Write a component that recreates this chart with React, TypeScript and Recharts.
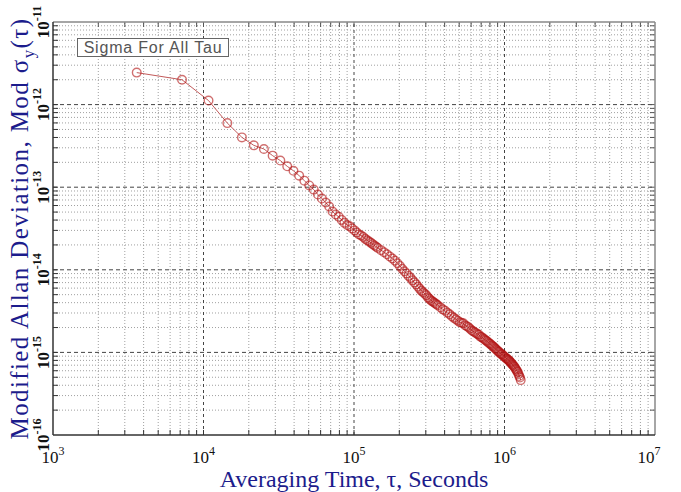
import React from "react";
import { LineChart, Line, XAxis, YAxis, ReferenceLine, Label } from "recharts";

// averaging times (s) and Mod sigma_y values
const tauSeconds = [
  3600, 7200, 10800, 14400, 18000, 21600, 25200, 28800, 32400, 36000,
  39600, 43200, 46800, 50400, 54000, 57600, 61200, 64800, 68400, 72000,
  75600, 79200, 82800, 86400, 90000, 93600, 97200, 100800, 104400, 108000,
  111600, 115200, 118800, 122400, 126000, 129600, 133200, 136800, 140400, 144000,
  151200, 158400, 165600, 172800, 180000, 187200, 194400, 201600, 208800, 216000,
  223200, 230400, 237600, 244800, 252000, 259200, 266400, 273600, 280800, 288000,
  295200, 302400, 309600, 316800, 324000, 331200, 338400, 345600, 352800, 360000,
  374400, 388800, 403200, 417600, 432000, 446400, 460800, 475200, 489600, 504000,
  518400, 532800, 547200, 561600, 576000, 590400, 604800, 619200, 633600, 648000,
  662400, 676800, 691200, 705600, 720000, 734400, 748800, 763200, 777600, 792000,
  806400, 820800, 835200, 849600, 864000, 878400, 892800, 907200, 921600, 936000,
  950400, 964800, 979200, 993600, 1008000, 1022400, 1036800, 1051200, 1065600, 1080000,
  1094400, 1108800, 1123200, 1137600, 1152000, 1166400, 1180800, 1195200, 1209600, 1224000,
  1238400, 1252800, 1267200, 1281600,
];

const modSigma = [
  2.44e-12, 2.0e-12, 1.12e-12, 5.97e-13, 4.01e-13, 3.21e-13, 2.9e-13, 2.41e-13, 2.1e-13, 1.79e-13,
  1.58e-13, 1.38e-13, 1.2e-13, 1.05e-13, 9.35e-14, 8.15e-14, 7.28e-14, 6.52e-14, 5.83e-14, 5.07e-14,
  4.67e-14, 4.38e-14, 4.02e-14, 3.7e-14, 3.48e-14, 3.36e-14, 3.17e-14, 3.0e-14, 2.83e-14, 2.68e-14,
  2.6e-14, 2.5e-14, 2.37e-14, 2.28e-14, 2.2e-14, 2.12e-14, 2.04e-14, 1.97e-14, 1.9e-14, 1.84e-14,
  1.73e-14, 1.63e-14, 1.54e-14, 1.45e-14, 1.37e-14, 1.29e-14, 1.2e-14, 1.115e-14, 1.03e-14, 9.6e-15,
  9.05e-15, 8.44e-15, 7.98e-15, 7.45e-15, 7.04e-15, 6.66e-15, 6.22e-15, 5.88e-15, 5.56e-15, 5.34e-15,
  5.12e-15, 4.91e-15, 4.64e-15, 4.45e-15, 4.27e-15, 4.15e-15, 4.04e-15, 3.93e-15, 3.82e-15, 3.72e-15,
  3.52e-15, 3.32e-15, 3.19e-15, 3.02e-15, 2.89e-15, 2.74e-15, 2.62e-15, 2.52e-15, 2.42e-15, 2.32e-15,
  2.28e-15, 2.25e-15, 2.13e-15, 2.07e-15, 2.02e-15, 1.93e-15, 1.85e-15, 1.8e-15, 1.75e-15, 1.71e-15,
  1.66e-15, 1.63e-15, 1.55e-15, 1.53e-15, 1.48e-15, 1.44e-15, 1.4e-15, 1.37e-15, 1.33e-15, 1.29e-15,
  1.26e-15, 1.22e-15, 1.19e-15, 1.16e-15, 1.12e-15, 1.09e-15, 1.06e-15, 1.03e-15, 1.01e-15, 9.78e-16,
  9.52e-16, 9.5e-16, 9.13e-16, 9.0e-16, 8.76e-16, 8.52e-16, 8.4e-16, 8.18e-16, 8.06e-16, 7.84e-16,
  7.63e-16, 7.42e-16, 7.21e-16, 7.02e-16, 6.83e-16, 6.64e-16, 6.37e-16, 6.19e-16, 5.94e-16, 5.78e-16,
  5.47e-16, 5.17e-16, 4.96e-16, 4.62e-16,
];

const xDecades = [1e3, 1e4, 1e5, 1e6, 1e7];
const yDecades = [1e-16, 1e-15, 1e-14, 1e-13, 1e-12, 1e-11];

const legendText = "Sigma For All Tau";
const xTitle = "Averaging Time, \u03c4, Seconds";

const data = tauSeconds.map((tau, i) => ({ tau, sigma: modSigma[i] }));

const minors = (decades: number[]) => {
  const out: number[] = [];
  for (let i = 0; i < decades.length - 1; i++) {
    for (let k = 2; k <= 9; k++) out.push(decades[i] * k);
  }
  return out;
};
const xMinor = minors(xDecades);
const yMinor = minors(yDecades);
const xInner = xDecades.slice(1, -1);
const yInner = yDecades.slice(1, -1);

const serif = "'Liberation Serif', 'Times New Roman', serif";
const navy = "#1c1c8c";

const XTick = (props: any) => {
  const { x, y, payload } = props;
  const exp = Math.round(Math.log10(payload.value));
  return (
    <text x={x} y={y + 28} textAnchor="middle" fontFamily={serif} fontSize={17} fill="#111">
      10<tspan dy={-8} fontSize={12}>{exp}</tspan>
    </text>
  );
};

const YTick = (props: any) => {
  const { x, y, payload } = props;
  const exp = Math.round(Math.log10(payload.value));
  const bx = x - 4;
  return (
    <text
      x={bx}
      y={y}
      transform={`rotate(-90 ${bx} ${y})`}
      textAnchor="middle"
      fontFamily={serif}
      fontWeight="bold"
      fontSize={17}
      fill="#111"
    >
      10<tspan dy={-8} fontSize={12}>{exp}</tspan>
    </text>
  );
};

const YTitle = (props: any) => {
  const { viewBox } = props;
  const cx = 28;
  const cy = viewBox.y + viewBox.height / 2;
  return (
    <text
      x={cx}
      y={cy}
      transform={`rotate(-90 ${cx} ${cy})`}
      textAnchor="middle"
      fontFamily={serif}
      fontSize={25}
      letterSpacing={1.4}
      fill={navy}
    >
      Modified Allan Deviation, Mod {"\u03c3"}
      <tspan dy={6} fontSize={17}>y</tspan>
      <tspan dy={-6}>({"\u03c4"})</tspan>
    </text>
  );
};

const XTitle = (props: any) => {
  const { viewBox } = props;
  return (
    <text
      x={viewBox.x + viewBox.width / 2}
      y={viewBox.y + 52}
      textAnchor="middle"
      fontFamily={serif}
      fontSize={24}
      fill={navy}
    >
      {xTitle}
    </text>
  );
};

export default function App() {
  return (
    <div style={{ position: "absolute", left: 0, top: 0, width: 681, height: 492, background: "#fff" }}>
      <LineChart width={681} height={492} data={data} margin={{ top: 22, right: 26, left: 0, bottom: 0 }}>
        {xMinor.map((v) => (
          <ReferenceLine key={"xm" + v} x={v} stroke="#a0a0a0" strokeDasharray="1 2" />
        ))}
        {yMinor.map((v) => (
          <ReferenceLine key={"ym" + v} y={v} stroke="#a0a0a0" strokeDasharray="1 2" />
        ))}
        {xInner.map((v) => (
          <ReferenceLine key={"xM" + v} x={v} stroke="#444" strokeDasharray="3 3" />
        ))}
        {yInner.map((v) => (
          <ReferenceLine key={"yM" + v} y={v} stroke="#444" strokeDasharray="4 3" />
        ))}
        {[...xMinor, ...xInner].map((v) => (
          <ReferenceLine key={"xb" + v} segment={[{ x: v, y: 1e-16 }, { x: v, y: 1.15e-16 }]} stroke="#333" />
        ))}
        {[...xMinor, ...xInner].map((v) => (
          <ReferenceLine key={"xt" + v} segment={[{ x: v, y: 1e-11 }, { x: v, y: 1e-11 / 1.15 }]} stroke="#555" />
        ))}
        {[...yMinor, ...yInner].map((v) => (
          <ReferenceLine key={"yl" + v} segment={[{ x: 1e3, y: v }, { x: 1.08e3, y: v }]} stroke="#333" />
        ))}
        {[...yMinor, ...yInner].map((v) => (
          <ReferenceLine key={"yr" + v} segment={[{ x: 1e7, y: v }, { x: 1e7 / 1.08, y: v }]} stroke="#555" />
        ))}
        <ReferenceLine y={1e-11} stroke="#888" strokeWidth={1.5} />
        <ReferenceLine x={1e7} stroke="#888" strokeWidth={1.5} />
        <XAxis
          dataKey="tau"
          type="number"
          scale="log"
          domain={[1e3, 1e7]}
          allowDataOverflow
          ticks={xDecades}
          tick={<XTick />}
          tickSize={0}
          tickMargin={0}
          height={57}
          axisLine={{ stroke: "#333", strokeWidth: 1.5 }}
          tickLine={false}
        >
          <Label content={<XTitle />} />
        </XAxis>
        <YAxis
          type="number"
          scale="log"
          domain={[1e-16, 1e-11]}
          allowDataOverflow
          ticks={yDecades}
          tick={<YTick />}
          tickSize={0}
          tickMargin={0}
          width={53}
          axisLine={{ stroke: "#333", strokeWidth: 1.5 }}
          tickLine={false}
        >
          <Label content={<YTitle />} />
        </YAxis>
        <Line
          dataKey="sigma"
          type="linear"
          stroke="#c25a5a"
          strokeWidth={1}
          dot={{ r: 4.3, fill: "none", stroke: "#b01010", strokeWidth: 1.4, strokeOpacity: 0.6 }}
          activeDot={false}
          isAnimationActive={false}
        />
      </LineChart>
      <div
        style={{
          position: "absolute",
          left: 77,
          top: 38,
          width: 150,
          height: 17,
          border: "1px solid #666",
          background: "#fff",
          fontFamily: "'Liberation Sans', Arial, sans-serif",
          fontSize: 16,
          letterSpacing: 0.8,
          lineHeight: "17px",
          color: "#555",
          textAlign: "center",
          whiteSpace: "nowrap",
        }}
      >
        {legendText}
      </div>
    </div>
  );
}
